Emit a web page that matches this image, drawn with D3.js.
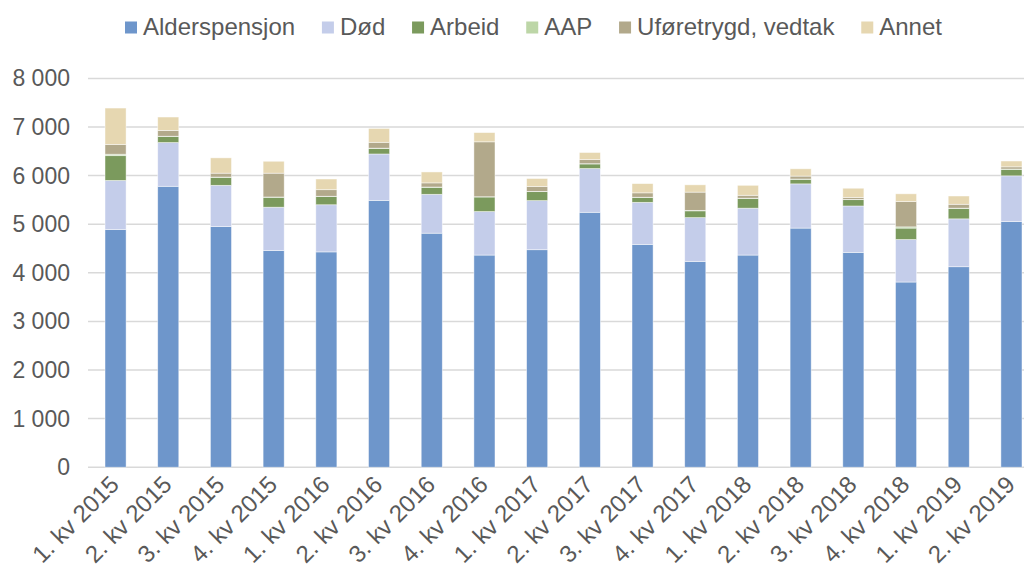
<!DOCTYPE html>
<html>
<head>
<meta charset="utf-8">
<script src="https://cdn.jsdelivr.net/npm/d3@7"></script>
<style>
  html, body { margin: 0; padding: 0; background: #fff; }
  svg { display: block; font-family: "Liberation Sans", Arial, sans-serif; }
</style>
</head>
<body>
<svg id="chart" width="1024" height="574"></svg>
<script>
const categories = ["1. kv 2015","2. kv 2015","3. kv 2015","4. kv 2015","1. kv 2016","2. kv 2016","3. kv 2016","4. kv 2016","1. kv 2017","2. kv 2017","3. kv 2017","4. kv 2017","1. kv 2018","2. kv 2018","3. kv 2018","4. kv 2018","1. kv 2019","2. kv 2019"];
const seriesNames = ["Alderspensjon","Død","Arbeid","AAP","Uføretrygd, vedtak","Annet"];
const alderspensjon = [4890,5780,4950,4460,4430,5490,4815,4365,4475,5245,4585,4235,4365,4920,4420,3810,4125,5055];
const dod          = [1010, 900, 850, 890, 970, 955, 800, 895,1010, 900, 865, 900, 965, 910, 955, 875, 985, 940];
const arbeid       = [ 510, 125, 165, 205, 170, 115, 145, 300, 185,  95, 100, 140, 200,  95, 130, 235, 215, 135];
const aap          = [  30,   5,   5,   5,   5,   5,   5,   5,   5,   5,   5,  10,   5,   5,   5,  25,   5,   5];
const uforetrygd   = [ 200, 120,  80, 490, 135, 120,  85,1130, 100,  85,  90, 375,  60,  60,  40, 520,  80,  45];
const annet        = [ 750, 275, 315, 245, 220, 285, 225, 190, 165, 145, 190, 150, 205, 150, 190, 160, 170, 120];
const yTicks = [0,1000,2000,3000,4000,5000,6000,7000,8000];
const colors = ["#6e96cb","#c4cdea","#7b9a5d","#bdd6a7","#b2a98b","#e6d7b1"];

const seriesArrays = [alderspensjon, dod, arbeid, aap, uforetrygd, annet];
const rows = categories.map((c, i) => {
  const r = { cat: c };
  seriesNames.forEach((s, k) => r[s] = seriesArrays[k][i]);
  return r;
});

const svg = d3.select("#chart");
const y = d3.scaleLinear().domain([0, 8000]).range([467.2, 78.4]);
const x = d3.scaleBand().domain(categories).range([89.2, 1037.8]).paddingInner(0.6).paddingOuter(0.3);

const fmt = v => d3.format(",")(v).replace(/,/g, "\u00a0");

// gridlines
svg.append("g").selectAll("line").data(yTicks).join("line")
  .attr("x1", 88).attr("x2", 1024)
  .attr("y1", d => y(d)).attr("y2", d => y(d))
  .attr("stroke", "#d9d9d9").attr("stroke-width", 1.5);

// y labels
svg.append("g").selectAll("text").data(yTicks).join("text")
  .attr("x", 70).attr("y", d => y(d)).attr("dy", "0.35em")
  .attr("text-anchor", "end").attr("fill", "#595959").attr("font-size", 23)
  .text(d => fmt(d));

// bars
const stack = d3.stack().keys(seriesNames)(rows);
svg.append("g").selectAll("g").data(stack).join("g")
  .attr("fill", (d, i) => colors[i])
  .selectAll("rect").data(d => d).join("rect")
  .attr("x", d => x(d.data.cat))
  .attr("width", x.bandwidth())
  .attr("y", d => y(d[1]))
  .attr("height", d => Math.max(0, y(d[0]) - y(d[1])))
  .attr("stroke", "rgba(255,255,255,0.6)").attr("stroke-width", 0.75);

// x labels
svg.append("g").selectAll("text").data(categories).join("text")
  .attr("transform", d => `translate(${x(d) + x.bandwidth() / 2 - 1},${480}) rotate(-45)`)
  .attr("text-anchor", "end").attr("dy", "0.35em")
  .attr("fill", "#595959").attr("font-size", 24)
  .text(d => d);

// legend
const lg = svg.append("g");
let lx = 125;
seriesNames.forEach((s, i) => {
  lg.append("rect").attr("x", lx).attr("y", 21.5).attr("width", 12).attr("height", 12).attr("fill", colors[i]);
  const t = lg.append("text").attr("x", lx + 18).attr("y", 35)
    .attr("fill", "#595959").attr("font-size", 24).text(s);
  const w = t.node().getComputedTextLength();
  lx += 18 + w + 26.8;
});
</script>
</body>
</html>
